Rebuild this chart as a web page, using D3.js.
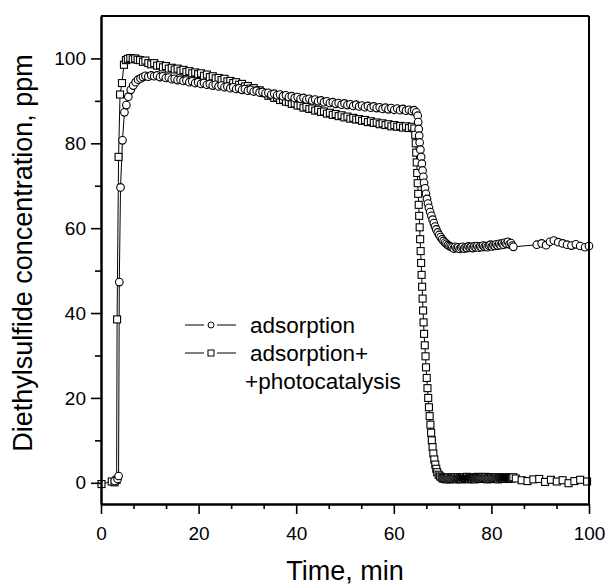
<!DOCTYPE html>
<html>
<head>
<meta charset="utf-8">
<script src="https://cdn.jsdelivr.net/npm/d3@7"></script>
<style>
  body { margin: 0; background: #fff; }
  svg { font-family: Arial, "Liberation Sans", sans-serif; }
</style>
</head>
<body>
<svg width="607" height="586"></svg>
<script>
// adsorption (circles): time, min
var adsTime = [2.8, 3.4, 3.6, 3.75, 4.0, 4.4, 4.8, 5.2, 5.6, 6.1, 6.6, 7.1, 7.6, 8.1, 8.6, 9.1, 9.7, 10.3, 10.9, 11.5,
  12.1, 12.7, 13.3, 13.9, 14.5, 15.1, 15.7, 16.3, 16.9, 17.5, 18.1, 18.7, 19.3, 19.9, 20.5, 21.1, 21.7, 22.3, 22.9, 23.5,
  24.1, 24.7, 25.3, 25.9, 26.5, 27.1, 27.7, 28.3, 28.9, 29.5, 30.1, 30.7, 31.3, 31.9, 32.5, 33.1, 33.7, 34.3, 34.9, 35.5,
  36.1, 36.7, 37.3, 37.9, 38.5, 39.1, 39.7, 40.3, 40.9, 41.5, 42.1, 42.7, 43.3, 43.9, 44.5, 45.1, 45.7, 46.3, 46.9, 47.5,
  48.1, 48.7, 49.3, 49.9, 50.5, 51.1, 51.7, 52.3, 52.9, 53.5, 54.1, 54.7, 55.3, 55.9, 56.5, 57.1, 57.7, 58.3, 58.9, 59.5,
  60.1, 60.7, 61.3, 61.9, 62.5, 63.1, 63.7, 64.2, 64.6,
  64.9, 65.0, 65.1, 65.2, 65.3, 65.45, 65.6, 65.75, 65.9, 66.05, 66.2, 66.4, 66.6, 66.8, 67.0, 67.2, 67.45, 67.7, 67.95, 68.2,
  68.45, 68.7, 69.0, 69.3, 69.6, 69.9, 70.2, 70.5, 70.8, 71.1, 71.4, 71.7,
  72.0, 72.3, 72.6, 72.9, 73.2, 73.5, 73.8, 74.1, 74.4, 74.7, 75.0, 75.3, 75.6, 75.9, 76.2, 76.5, 76.8, 77.1, 77.4, 77.7,
  78.0, 78.3, 78.6, 78.9, 79.2, 79.5, 79.8, 80.1, 80.4, 80.7, 81.0, 81.3, 81.6, 81.9, 82.2, 82.5, 82.8, 83.1, 83.4, 83.7,
  84.0, 84.3, 84.5,
  89.3, 90.3, 91.2, 92.0, 92.8, 93.7, 94.6, 95.5, 96.4, 97.3, 98.2, 99.2, 100];
// adsorption: concentration, ppm
var adsValue = [0.4, 0.9, 1.6, 47.3, 69.6, 80.7, 87.3, 89.0, 91.0, 92.6, 93.6, 94.4, 95.0, 95.3, 95.6, 95.9, 95.7, 96.0, 95.8, 96.0,
  95.6, 95.8, 95.4, 95.5, 95.1, 95.2, 94.9, 95.0, 94.7, 94.8, 94.4, 94.6, 94.2, 94.4, 94.0, 94.2, 93.8, 94.0, 93.6, 93.8,
  93.4, 93.6, 93.2, 93.4, 93.0, 93.2, 92.8, 93.0, 92.6, 92.8, 92.4, 92.6, 92.2, 92.4, 92.0, 92.1, 91.8, 91.9, 91.5, 91.7,
  91.3, 91.5, 91.1, 91.3, 90.9, 91.1, 90.7, 90.9, 90.5, 90.7, 90.3, 90.5, 90.1, 90.3, 89.9, 90.1, 89.7, 89.9, 89.5, 89.7,
  89.3, 89.5, 89.1, 89.4, 89.0, 89.2, 88.8, 89.1, 88.7, 88.9, 88.5, 88.8, 88.4, 88.7, 88.3, 88.5, 88.1, 88.4, 88.0, 88.3,
  87.9, 88.2, 87.8, 88.1, 87.7, 87.9, 87.6, 87.8, 87.3,
  86.5, 85.0, 83.4, 81.8, 80.2, 78.5, 76.8, 75.2, 73.6, 72.1, 70.7, 69.4, 68.1, 66.9, 65.8, 64.8, 63.8, 62.9, 62.0, 61.2,
  60.4, 59.7, 59.0, 58.4, 57.9, 57.4, 57.0, 56.6, 56.3, 56.0, 55.8, 55.6,
  55.5, 55.2, 55.6, 55.3, 55.5, 55.1, 55.4, 55.6, 55.2, 55.5, 55.3, 55.7, 55.4, 55.6, 55.3, 55.7, 55.5, 55.8, 55.4, 55.7,
  55.5, 55.9, 55.6, 55.8, 55.5, 55.9, 56.1, 55.7, 56.0, 55.8, 56.2, 55.9, 56.3, 56.0, 56.4, 56.1, 56.6, 56.3, 56.8, 56.2,
  56.5, 55.9, 55.6,
  56.1, 56.4, 56.0, 56.8, 57.1, 56.7, 56.4, 56.1, 55.9, 56.2, 55.8, 55.5, 55.8];

// adsorption+photocatalysis (squares): time, min
var photoTime = [0.1, 2.2, 2.8, 3.2, 3.3, 3.6, 3.9, 4.3, 4.7, 5.1, 5.5, 6.0, 6.5, 7.0, 7.5, 8.0, 8.6, 9.1, 9.7, 10.3,
  10.9, 11.5, 12.1, 12.7, 13.3, 13.9, 14.5, 15.1, 15.7, 16.3, 16.9, 17.5, 18.1, 18.7, 19.3, 19.9, 20.5, 21.1, 21.7, 22.3,
  22.9, 23.5, 24.1, 24.7, 25.3, 25.9, 26.5, 27.1, 27.7, 28.3, 28.9, 29.5, 30.1, 30.7, 31.3, 31.9, 32.5, 33.1, 33.7, 34.3,
  34.9, 35.5, 36.1, 36.7, 37.3, 37.9, 38.5, 39.1, 39.7, 40.3, 40.9, 41.5, 42.1, 42.7, 43.3, 43.9, 44.5, 45.1, 45.7, 46.3,
  46.9, 47.5, 48.1, 48.7, 49.3, 49.9, 50.5, 51.1, 51.7, 52.3, 52.9, 53.5, 54.1, 54.7, 55.3, 55.9, 56.5, 57.1, 57.7, 58.3,
  58.9, 59.5, 60.1, 60.7, 61.3, 61.9, 62.5, 63.1, 63.7, 64.2,
  64.4, 64.5, 64.6, 64.7, 64.8, 64.9, 65.0, 65.1, 65.2, 65.3, 65.4, 65.5, 65.6, 65.7, 65.8, 65.9, 66.0, 66.1, 66.2, 66.35,
  66.5, 66.6, 66.75, 66.9, 67.05, 67.2, 67.35, 67.5, 67.65, 67.8, 67.95, 68.1, 68.3, 68.5, 68.7, 68.9, 69.2, 69.5,
  69.8, 70.0, 70.2, 70.4, 70.6, 70.8, 71.0, 71.2, 71.4, 71.6, 71.8, 72.0, 72.2, 72.4, 72.6, 72.8, 73.0, 73.2, 73.4, 73.6,
  73.8, 74.0, 74.2, 74.4, 74.6, 74.8, 75.0, 75.2, 75.4, 75.6, 75.8, 76.0, 76.2, 76.4, 76.6, 76.8, 77.0, 77.2, 77.4, 77.6,
  77.8, 78.0, 78.2, 78.4, 78.6, 78.8, 79.0, 79.2, 79.4, 79.6, 79.8, 80.0, 80.2, 80.4, 80.6, 80.8, 81.0, 81.2, 81.4, 81.6,
  81.8, 82.0, 82.2, 82.4, 82.6, 82.8, 83.0, 83.2, 83.4, 83.6, 83.8, 84.0, 84.2, 84.5,
  85.0, 86.2, 87.4, 88.6, 89.8, 91.0, 92.2, 93.4, 94.6, 95.8, 97.0, 98.2, 99.6];
// adsorption+photocatalysis: concentration, ppm
var photoValue = [-0.3, 0.3, 0.1, 0.7, 38.5, 76.8, 91.5, 94.2, 98.5, 99.6, 99.9, 100.1, 99.8, 100.0, 99.7, 99.6, 99.2, 99.5, 98.9, 98.6,
  98.9, 98.3, 98.4, 97.9, 98.2, 97.6, 97.8, 97.4, 97.6, 97.1, 97.3, 96.8, 97.0, 96.5, 96.7, 96.3, 96.5, 95.9, 96.2, 95.6,
  95.8, 95.3, 95.4, 94.9, 95.2, 94.6, 94.7, 94.2, 94.4, 93.8, 94.0, 93.4, 93.5, 92.9, 93.0, 92.4, 92.5, 91.9, 91.8, 91.2,
  91.3, 90.7, 90.8, 90.2, 90.3, 89.8, 89.7, 89.3, 89.4, 88.9, 88.9, 88.4, 88.6, 88.1, 88.2, 87.7, 87.9, 87.4, 87.5, 87.0,
  87.2, 86.7, 86.9, 86.4, 86.6, 86.1, 86.3, 85.8, 86.0, 85.6, 85.7, 85.3, 85.5, 85.0, 85.2, 84.8, 84.9, 84.5, 84.7, 84.3,
  84.5, 84.0, 84.3, 83.9, 84.1, 83.7, 84.0, 83.6, 83.9, 83.5,
  82.0, 80.0, 77.8, 75.5, 73.0, 70.6, 68.1, 65.5, 62.9, 60.2, 57.4, 54.6, 51.8, 49.0, 46.2, 43.4, 40.6, 37.8, 35.1, 32.4,
  29.8, 27.2, 24.7, 22.3, 20.0, 17.8, 15.7, 13.7, 11.8, 10.0, 8.4, 6.9, 5.5, 4.3, 3.3, 2.5, 1.9, 1.5,
  1.3, 1.0, 1.2, 0.9, 1.1, 0.8, 1.0, 1.3, 0.8, 1.1, 0.9, 1.2, 0.9, 1.0, 1.3, 0.8, 1.1, 1.3, 0.9, 1.1,
  0.8, 1.2, 1.0, 1.3, 0.9, 1.1, 1.4, 1.0, 0.8, 1.2, 1.0, 0.9, 1.3, 1.1, 0.8, 1.2, 1.0, 1.4, 1.1, 0.9,
  1.2, 1.0, 1.3, 0.9, 1.1, 1.4, 1.0, 0.8, 1.2, 1.1, 0.9, 1.3, 1.0, 1.2, 0.9, 1.1, 1.3, 1.0, 0.8, 1.2,
  1.0, 1.3, 1.1, 0.9, 1.2, 1.0, 1.3, 1.1, 0.9, 1.2, 1.1, 1.0, 1.2, 1.3,
  1.0, 0.6, 0.4, 0.8, 0.9, 0.2, 0.7, 0.3, 0.6, -0.1, 0.4, 0.7, 0.3];

var xTicks = [0, 20, 40, 60, 80, 100];
var yTicks = [0, 20, 40, 60, 80, 100];
var seriesNames = ["adsorption", "adsorption+", "+photocatalysis"];

var svg = d3.select("svg");
var margin = {left: 101, top: 16, right: 18, bottom: 82};
var width = 607 - margin.left - margin.right;
var height = 586 - margin.top - margin.bottom;

var x = d3.scaleLinear().domain([0, 100]).range([margin.left, margin.left + width]);
var y = d3.scaleLinear().domain([-5, 110]).range([margin.top + height, margin.top]);

//pair up times and values
var ads = adsTime.map(function(t, i) { return [t, adsValue[i]]; });
var photo = photoTime.map(function(t, i) { return [t, photoValue[i]]; });

var line = d3.line()
  .x(function(d) { return x(d[0]); })
  .y(function(d) { return y(d[1]); });

var plot = svg.append("g");

plot.append("path").datum(photo)
  .attr("d", line).attr("fill", "none").attr("stroke", "#000").attr("stroke-width", 1);
plot.append("path").datum(ads)
  .attr("d", line).attr("fill", "none").attr("stroke", "#000").attr("stroke-width", 1);

plot.selectAll(".sq").data(photo).enter().append("rect")
  .attr("class", "sq")
  .attr("x", function(d) { return x(d[0]) - 3.5; })
  .attr("y", function(d) { return y(d[1]) - 3.5; })
  .attr("width", 7).attr("height", 7)
  .attr("fill", "#fff").attr("stroke", "#000").attr("stroke-width", 1.1);

plot.selectAll(".ci").data(ads).enter().append("circle")
  .attr("class", "ci")
  .attr("cx", function(d) { return x(d[0]); })
  .attr("cy", function(d) { return y(d[1]); })
  .attr("r", 3.8)
  .attr("fill", "#fff").attr("stroke", "#000").attr("stroke-width", 1.1);

// axes
svg.append("g")
  .attr("transform", "translate(0," + (margin.top + height) + ")")
  .call(d3.axisBottom(x).tickValues(xTicks).tickSize(10).tickSizeOuter(0).tickPadding(13));
svg.append("g")
  .attr("transform", "translate(0," + (margin.top + height) + ")")
  .call(d3.axisBottom(x).tickValues([20/3, 40/3, 80/3, 100/3, 140/3, 160/3, 200/3, 220/3, 260/3, 280/3])
    .tickSize(5).tickSizeOuter(0).tickFormat(""));

svg.append("g")
  .attr("transform", "translate(" + margin.left + ",0)")
  .call(d3.axisLeft(y).tickValues(yTicks).tickSize(10).tickSizeOuter(0).tickPadding(5));
svg.append("g")
  .attr("transform", "translate(" + margin.left + ",0)")
  .call(d3.axisLeft(y).tickValues([10, 30, 50, 70, 90]).tickSize(6).tickSizeOuter(0).tickFormat(""));

svg.selectAll(".domain").attr("stroke", "#000").attr("stroke-width", 2);
svg.selectAll(".tick line").attr("stroke", "#000").attr("stroke-width", 1.6);
svg.selectAll(".tick text").attr("fill", "#000").style("font-size", "19px")
  .style("font-family", "Arial, 'Liberation Sans', sans-serif");

// top and right frame
svg.append("line")
  .attr("x1", margin.left).attr("x2", margin.left + width)
  .attr("y1", margin.top).attr("y2", margin.top)
  .attr("stroke", "#000").attr("stroke-width", 2);
svg.append("line")
  .attr("x1", margin.left + width).attr("x2", margin.left + width)
  .attr("y1", margin.top).attr("y2", margin.top + height)
  .attr("stroke", "#000").attr("stroke-width", 2);

// axis titles
svg.append("text")
  .attr("x", margin.left + width / 2).attr("y", 580)
  .attr("text-anchor", "middle").style("font-size", "27px")
  .text("Time, min");
svg.append("text")
  .attr("transform", "translate(32," + (margin.top + 237) + ") rotate(-90)")
  .attr("text-anchor", "middle").style("font-size", "27px")
  .text("Diethylsulfide concentration, ppm");

// legend
var legend = svg.append("g");
var rows = [325, 353];
rows.forEach(function(ry, i) {
  legend.append("line").attr("x1", 185).attr("x2", 204).attr("y1", ry).attr("y2", ry)
    .attr("stroke", "#000").attr("stroke-width", 1);
  legend.append("line").attr("x1", 217).attr("x2", 236).attr("y1", ry).attr("y2", ry)
    .attr("stroke", "#000").attr("stroke-width", 1);
  if (i == 0) {
    legend.append("circle").attr("cx", 211).attr("cy", ry).attr("r", 3)
      .attr("fill", "#fff").attr("stroke", "#000").attr("stroke-width", 1);
  } else {
    legend.append("rect").attr("x", 208).attr("y", ry - 3).attr("width", 6).attr("height", 6)
      .attr("fill", "#fff").attr("stroke", "#000").attr("stroke-width", 1);
  }
});
legend.selectAll("text.lab")
  .data(seriesNames)
  .enter().append("text")
  .attr("class", "lab")
  .attr("x", function(d, i) { return i == 2 ? 245 : 250; })
  .attr("y", function(d, i) { return [333, 361, 389][i]; })
  .style("font-size", "22.5px")
  .text(function(d) { return d; });
</script>
</body>
</html>
